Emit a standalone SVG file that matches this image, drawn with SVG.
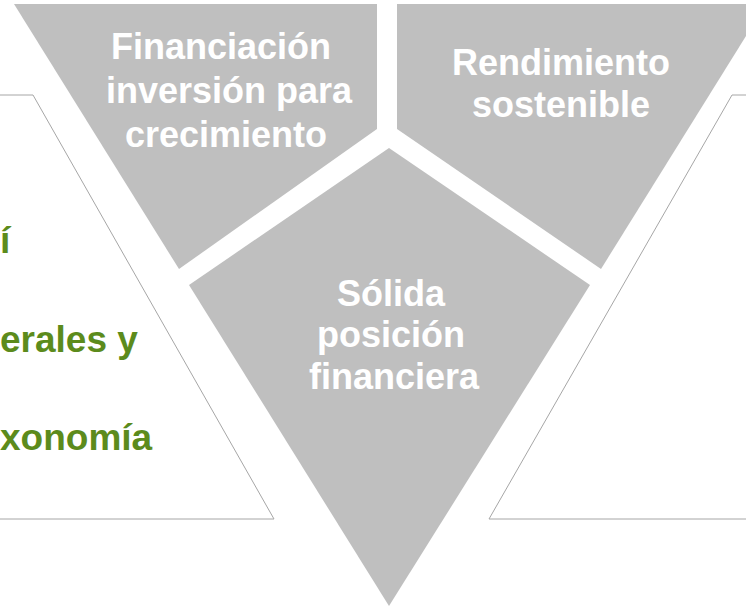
<svg xmlns="http://www.w3.org/2000/svg" width="746" height="608" viewBox="0 0 746 608">
  <style>
    .seg { fill: #BFBFBF; stroke: none; }
    .frame { fill: #FFFFFF; stroke: #A6A6A6; stroke-width: 1; }
    .wt { font-family: "Liberation Sans", Arial, sans-serif; font-weight: bold; font-size: 36px; fill: #FFFFFF; text-anchor: middle; }
    .gt { font-family: "Liberation Sans", Arial, sans-serif; font-weight: bold; font-size: 37px; fill: #5C8B1C; text-anchor: start; }
  </style>
  <rect width="746" height="608" fill="#FFFFFF"/>
  <g id="left-panel">
    <polygon class="frame" points="-5,95 33,95 274,519 -5,519"/>
    <text class="gt" x="0" y="253">í</text>
    <text class="gt" x="0" y="352">erales y</text>
    <text class="gt" x="0" y="450">xonomía</text>
  </g>
  <g id="right-panel">
    <polygon class="frame" points="751,95 732,95 489,519 751,519"/>
  </g>
  <g id="financiacion">
    <polygon class="seg" points="14,4 377,4 377,129 179,269"/>
    <text class="wt" x="221" y="59">Financiación</text>
    <text class="wt" x="229" y="103">inversión para</text>
    <text class="wt" x="226" y="147">crecimiento</text>
  </g>
  <g id="rendimiento">
    <polygon class="seg" points="397,4 766,4 601,269 397,129"/>
    <text class="wt" x="561" y="75">Rendimiento</text>
    <text class="wt" x="561" y="117">sostenible</text>
  </g>
  <g id="solida">
    <polygon class="seg" points="389,148 590,285 389,606 189,285"/>
    <text class="wt" x="391" y="306">Sólida</text>
    <text class="wt" x="391" y="347">posición</text>
    <text class="wt" x="394" y="389">financiera</text>
  </g>
  <g id="connectors"/>
</svg>
